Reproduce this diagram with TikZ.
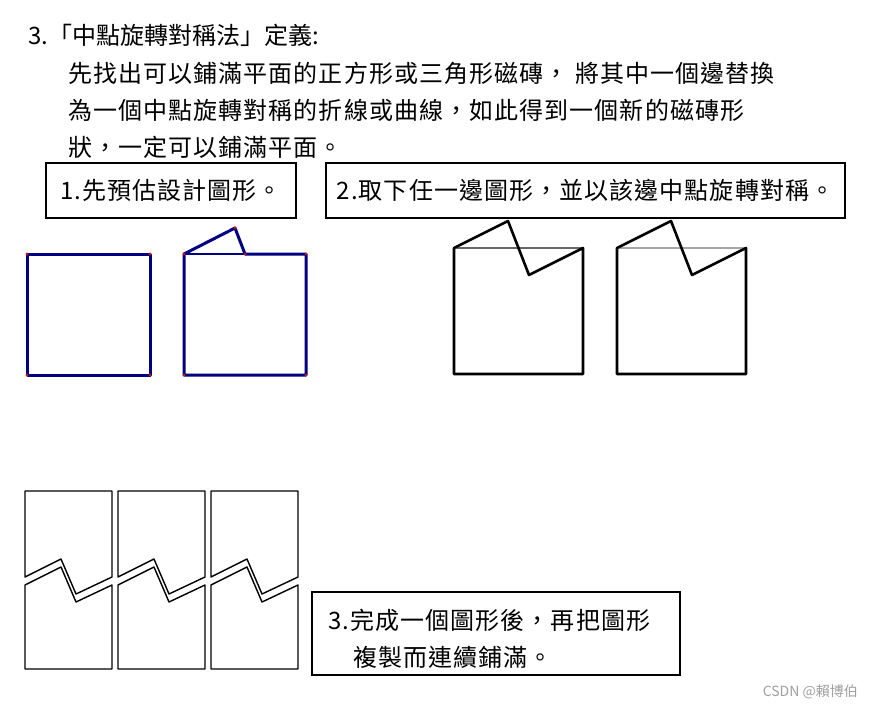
\documentclass[tikz,border=0pt]{standalone}
\usepackage{fontspec}
\setmainfont{Noto Sans CJK TC}
\newfontfamily\spacedcjk[LetterSpace=4.5]{Noto Sans CJK TC}
\definecolor{navyb}{RGB}{0,0,128}
\definecolor{dotred}{RGB}{190,20,20}
\definecolor{wmgray}{RGB}{160,160,160}
\begin{document}
\begin{tikzpicture}[x=1pt,y=-1pt,
  txt/.style={anchor=west, inner sep=0pt, font=\spacedcjk\fontsize{24}{28}\selectfont},
  boxnode/.style={draw, line width=2.4pt, inner sep=0pt, font=\spacedcjk\fontsize{24}{28}\selectfont},
  bsq/.style={draw=navyb, line width=3pt, line join=round, line cap=round},
  bthin/.style={draw=navyb, line width=1.2pt},
  ksq/.style={draw=black, line width=2.6pt, line join=round, line cap=round},
  tile/.style={draw=black, line width=1.4pt, line join=round},
  vdot/.style={circle, fill=dotred, inner sep=0pt, minimum size=3.4pt}]
\fill[white] (0,0) rectangle (871,710);
\useasboundingbox (0,0) rectangle (871,710);

% heading text
\node[txt, font=\fontsize{24}{28}\selectfont] (t1) at (28,35) {3.「中點旋轉對稱法」定義:};
\node[txt] (t2) at (68,73) {先找出可以鋪滿平面的正方形或三角形磁磚， 將其中一個邊替換};
\node[txt] (t3) at (68,110) {為一個中點旋轉對稱的折線或曲線，如此得到一個新的磁磚形};
\node[txt] (t4) at (68,147) {狀，一定可以鋪滿平面。};

% step boxes
\node[boxnode, minimum width=250, minimum height=55] (b1) at (171,190.5) {1.先預估設計圖形。};
\node[boxnode, minimum width=519, minimum height=55] (b2) at (585.5,190.5) {2.取下任一邊圖形，並以該邊中點旋轉對稱。};
\node[boxnode, minimum width=368, minimum height=83] (b3) at (496,633.5) {};
\node[txt] (b3a) at (328,620) {3.完成一個圖形後，再把圖形};
\node[txt] (b3b) at (353,657) {複製而連續鋪滿。};

% blue squares
\draw[bsq] (27,254) rectangle (150,375);
\foreach \p in {(27,254),(150,254),(150,375),(27,375)} \node[vdot] at \p {};
\draw[bthin] (184,254) -- (245,254);
\draw[bsq] (245,254) -- (306,254) -- (306,375) -- (184,375) -- (184,254) -- (235,228) -- cycle;
\foreach \p in {(184,254),(235,228),(245,254),(306,254),(306,375),(184,375)} \node[vdot] at \p {};

% black squares
\draw[draw=black!60, line width=2pt] (454,248) -- (583,248);
\draw[ksq] (454,248) -- (508,221) -- (529,275) -- (583,248) -- (583,374) -- (454,374) -- cycle;
\draw[draw=black!35, line width=2pt] (617,248) -- (746,248);
\draw[ksq] (617,248) -- (671,221) -- (692,275) -- (746,248) -- (746,374) -- (617,374) -- cycle;

% tessellation
\foreach \x in {25,118,211} {
  \draw[tile] (\x,491) -- (\x+87,491) -- (\x+87,577) -- (\x+51,594) -- (\x+36,559) -- (\x,577) -- cycle;
  \draw[tile] (\x,585) -- (\x+36,567) -- (\x+51,602) -- (\x+87,585) -- (\x+87,669) -- (\x,669) -- cycle;
}

% watermark
\node[anchor=east, inner sep=0pt, text=wmgray, font=\fontsize{14}{16}\selectfont] (wm) at (858,692) {CSDN @賴博伯};
\end{tikzpicture}
\end{document}
